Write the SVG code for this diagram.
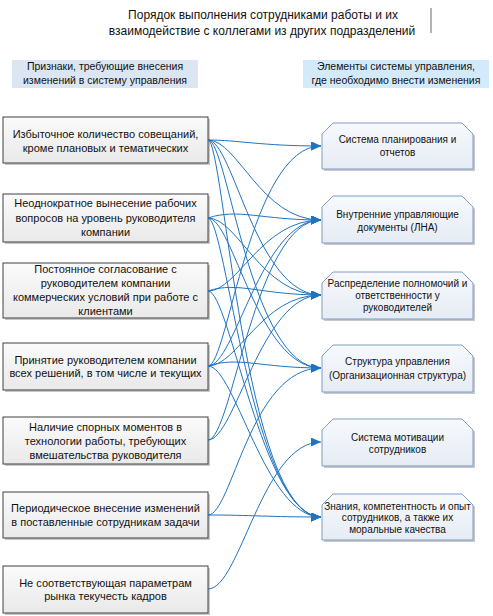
<svg xmlns="http://www.w3.org/2000/svg" width="493" height="616" viewBox="0 0 493 616">
<defs>
<linearGradient id="gl" x1="0" y1="0" x2="0" y2="1"><stop offset="0" stop-color="#fbfbfb"/><stop offset="1" stop-color="#e9e9e9"/></linearGradient>
<linearGradient id="gr" x1="0" y1="0" x2="0" y2="1"><stop offset="0" stop-color="#f7f9fc"/><stop offset="1" stop-color="#e6ecf4"/></linearGradient>
<marker id="ah" markerUnits="userSpaceOnUse" markerWidth="11" markerHeight="9" refX="10" refY="4.5" orient="auto"><path d="M0,0 L10,4.5 L0,9 Z" fill="#1f74c2"/></marker>
</defs>
<style>
text{font-family:"Liberation Sans",Arial,sans-serif;fill:#111;text-anchor:middle}
.t{font-size:12px}
.h{font-size:10.5px}
.l{font-size:11px}
.r{font-size:10px}
.lb{fill:url(#gl);stroke:#404040;stroke-width:1}
.rb{fill:url(#gr);stroke:#7f9cc4;stroke-width:1}
.sh{fill:#c8c8c8}
.c path{fill:none;stroke:#1f74c2;stroke-width:1;marker-end:url(#ah)}
</style>
<rect width="493" height="616" fill="#ffffff"/>

<g id="title">
<text class="t" x="263" y="19">Порядок выполнения сотрудниками работы и их</text>
<text class="t" x="262" y="35">взаимодействие с коллегами из других подразделений</text>
<line x1="431" y1="8" x2="431" y2="33" stroke="#666" stroke-width="1"/>
</g>

<g id="header-left">
<rect x="12" y="60" width="186" height="28" fill="#dce6f2"/>
<text class="h" x="105" y="70">Признаки, требующие внесения</text>
<text class="h" x="105" y="84">изменений в систему управления</text>
</g>
<g id="header-right">
<rect x="303" y="60" width="186" height="28" fill="#d3eafb"/>
<text class="h" x="396" y="70">Элементы системы управления,</text>
<text class="h" x="396" y="84">где необходимо внести изменения</text>
</g>

<g id="L1">
<rect class="sh" x="5" y="119" width="205" height="46"/>
<rect class="lb" x="3" y="117" width="205" height="46"/>
<text class="l" x="105.5" y="138">Избыточное количество совещаний,</text>
<text class="l" x="105.5" y="152">кроме плановых и тематических</text>
</g>
<g id="L2">
<rect class="sh" x="5" y="196" width="205" height="48"/>
<rect class="lb" x="3" y="194" width="205" height="48"/>
<text class="l" x="105.5" y="207">Неоднократное вынесение рабочих</text>
<text class="l" x="105.5" y="222">вопросов на уровень руководителя</text>
<text class="l" x="105.5" y="236">компании</text>
</g>
<g id="L3">
<rect class="sh" x="5" y="265" width="205" height="55"/>
<rect class="lb" x="3" y="263" width="205" height="55"/>
<text class="l" x="105.5" y="273">Постоянное согласование с</text>
<text class="l" x="105.5" y="287">руководителем компании</text>
<text class="l" x="105.5" y="301">коммерческих условий при работе с</text>
<text class="l" x="105.5" y="315">клиентами</text>
</g>
<g id="L4">
<rect class="sh" x="5" y="345" width="205" height="47"/>
<rect class="lb" x="3" y="343" width="205" height="47"/>
<text class="l" x="105.5" y="364">Принятие руководителем компании</text>
<text class="l" x="105.5" y="377">всех решений, в том числе и текущих</text>
</g>
<g id="L5">
<rect class="sh" x="5" y="419" width="205" height="47"/>
<rect class="lb" x="3" y="417" width="205" height="47"/>
<text class="l" x="105.5" y="431">Наличие спорных моментов в</text>
<text class="l" x="105.5" y="445">технологии работы, требующих</text>
<text class="l" x="105.5" y="459">вмешательства руководителя</text>
</g>
<g id="L6">
<rect class="sh" x="5" y="494" width="205" height="46"/>
<rect class="lb" x="3" y="492" width="205" height="46"/>
<text class="l" x="105.5" y="512">Периодическое внесение изменений</text>
<text class="l" x="105.5" y="526">в поставленные сотрудникам задачи</text>
</g>
<g id="L7">
<rect class="sh" x="5" y="568" width="205" height="47"/>
<rect class="lb" x="3" y="566" width="205" height="47"/>
<text class="l" x="105.5" y="587">Не соответствующая параметрам</text>
<text class="l" x="105.5" y="600">рынка текучесть кадров</text>
</g>

<g id="R1">
<path class="sh" d="M324,136 L335,125 L464,125 L475,136 L475,171 L324,171 Z"/>
<path class="rb" d="M322,134 L333,123 L462,123 L473,134 L473,169 L322,169 Z"/>
<text class="r" x="397.5" y="143">Система планирования и</text>
<text class="r" x="397.5" y="156">отчетов</text>
</g>
<g id="R2">
<path class="sh" d="M324,209 L335,198 L464,198 L475,209 L475,245 L324,245 Z"/>
<path class="rb" d="M322,207 L333,196 L462,196 L473,207 L473,243 L322,243 Z"/>
<text class="r" x="397.5" y="218">Внутренние управляющие</text>
<text class="r" x="397.5" y="231">документы (ЛНА)</text>
</g>
<g id="R3">
<path class="sh" d="M324,285 L335,274 L464,274 L475,285 L475,321 L324,321 Z"/>
<path class="rb" d="M322,283 L333,272 L462,272 L473,283 L473,319 L322,319 Z"/>
<text class="r" x="397.5" y="287">Распределение полномочий и</text>
<text class="r" x="397.5" y="299">ответственности у</text>
<text class="r" x="397.5" y="311">руководителей</text>
</g>
<g id="R4">
<path class="sh" d="M324,358 L335,347 L464,347 L475,358 L475,394 L324,394 Z"/>
<path class="rb" d="M322,356 L333,345 L462,345 L473,356 L473,392 L322,392 Z"/>
<text class="r" x="397.5" y="365">Структура управления</text>
<text class="r" x="397.5" y="379">(Организационная структура)</text>
</g>
<g id="R5">
<path class="sh" d="M324,432 L335,421 L464,421 L475,432 L475,468 L324,468 Z"/>
<path class="rb" d="M322,430 L333,419 L462,419 L473,430 L473,466 L322,466 Z"/>
<text class="r" x="397.5" y="441">Система мотивации</text>
<text class="r" x="397.5" y="453">сотрудников</text>
</g>
<g id="R6">
<path class="sh" d="M324,507 L335,496 L464,496 L475,507 L475,542 L324,542 Z"/>
<path class="rb" d="M322,505 L333,494 L462,494 L473,505 L473,540 L322,540 Z"/>
<text class="r" x="397.5" y="510">Знания, компетентность и опыт</text>
<text class="r" x="397.5" y="521">сотрудников, а также их</text>
<text class="r" x="397.5" y="533">моральные качества</text>
</g>

<g id="connectors" class="c">
<path d="M208,140 C238,140 261,146 321,146"/>
<path d="M208,140 C238,140 261,220 321,220"/>
<path d="M208,140 C233,140 256,295 321,295"/>
<path d="M208,140 C228,140 250,368 321,368"/>
<path d="M208,140 C224,140 244,517 321,517"/>
<path d="M208,218 C238,208 261,220 321,220"/>
<path d="M208,218 C238,218 261,295 321,295"/>
<path d="M208,218 C233,218 258,368 321,368"/>
<path d="M208,218 C226,218 252,517 321,517"/>
<path d="M208,291 C238,291 261,220 321,220"/>
<path d="M208,291 C238,281 261,295 321,295"/>
<path d="M208,291 C230,291 262,517 321,517"/>
<path d="M208,366 C228,366 250,146 321,146"/>
<path d="M208,366 C235,366 261,220 321,220"/>
<path d="M208,366 C238,366 261,295 321,295"/>
<path d="M208,366 C238,356 261,368 321,368"/>
<path d="M208,366 C235,366 265,517 321,517"/>
<path d="M208,440 C232,440 255,220 321,220"/>
<path d="M208,440 C235,440 261,295 321,295"/>
<path d="M208,515 C232,515 250,368 321,368"/>
<path d="M208,515 C250,515 270,517 321,517"/>
<path d="M208,589 C240,589 262,442 321,442"/>
</g>
</svg>
